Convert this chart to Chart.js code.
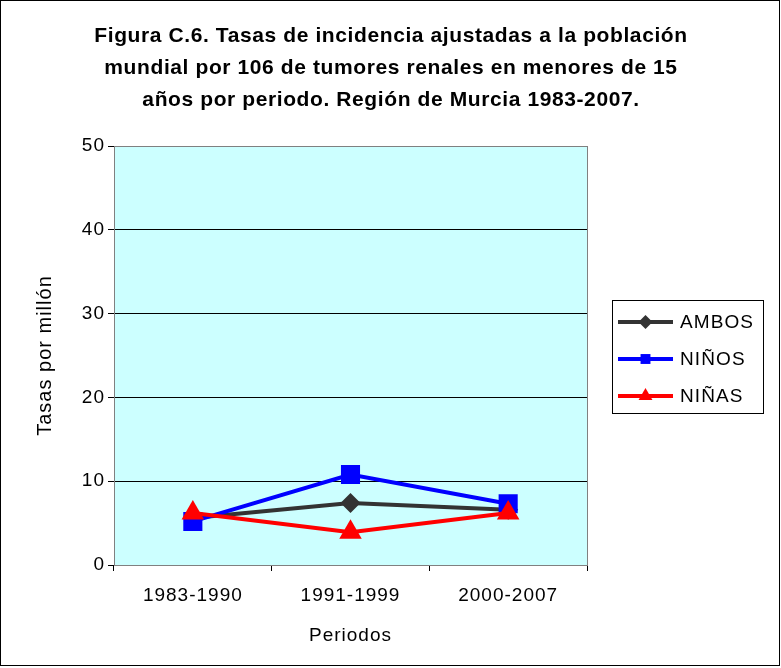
<!DOCTYPE html>
<html><head><meta charset="utf-8">
<script src="https://cdn.jsdelivr.net/npm/chart.js@4"></script>
<style>html,body{margin:0;padding:0;background:#fff}#wrap{width:781px;height:668px;position:relative}</style>
</head><body><div id="wrap"><canvas id="c" width="781" height="668"></canvas></div>
<script>
const titleLines = ["Figura C.6. Tasas de incidencia ajustadas a la población","mundial por 106 de tumores renales en menores de 15","años por periodo. Región de Murcia 1983-2007."];
const categories = ["1983-1990","1991-1999","2000-2007"];
const ambos = [5.6, 7.4, 6.6];
const ninos = [5.2, 10.8, 7.3];
const ninas = [6.2, 3.9, 6.2];
const yTicks = [0,10,20,30,40,50];
const seriesNames = ["AMBOS","NIÑOS","NIÑAS"];
const FONT = "'Liberation Sans', Arial, sans-serif";

const deco = {
  id:'deco',
  beforeDraw(chart){
    const {ctx, chartArea:a} = chart;
    ctx.fillStyle='#fff'; ctx.fillRect(0,0,chart.width,chart.height);
    ctx.fillStyle='#CCFFFF'; ctx.fillRect(a.left,a.top,a.right-a.left,a.bottom-a.top);
    ctx.letterSpacing='1px';
  },
  afterDraw(chart){
    const {ctx, chartArea:a} = chart;
    ctx.save();
    ctx.strokeStyle='#808080'; ctx.lineWidth=1;
    ctx.strokeRect(Math.round(a.left)+0.5, Math.round(a.top)+0.5, Math.round(a.right-a.left), Math.round(a.bottom-a.top));
    ctx.strokeStyle='#000';
    ctx.strokeRect(0.5,0.5,chart.width-2,chart.height-3);
    // title
    ctx.fillStyle='#000'; ctx.textAlign='center'; ctx.textBaseline='middle';
    ctx.font="bold 21px "+FONT;
    ctx.letterSpacing='0.6px';
    titleLines.forEach((t,i)=>ctx.fillText(t, 391, 36+i*32));
    // legend
    ctx.strokeStyle='#000'; ctx.lineWidth=1;
    ctx.strokeRect(612.5,300.5,151,113);
    const ds = chart.data.datasets;
    ds.forEach((d,i)=>{
      const y = 322 + i*37;
      ctx.strokeStyle=d.borderColor; ctx.lineWidth=4;
      ctx.beginPath(); ctx.moveTo(618,y); ctx.lineTo(673,y); ctx.stroke();
      ctx.fillStyle=d.borderColor;
      Chart.helpers.drawPoint(ctx,{pointStyle:d.pointStyle, radius:d.legendRadius, borderWidth:0}, 645.5, y);
      ctx.fillStyle='#000'; ctx.textAlign='left'; ctx.font="19px "+FONT;
      ctx.letterSpacing='1.1px';
      ctx.fillText(d.label, 680, y+1);
    });
    ctx.restore();
  }
};

new Chart(document.getElementById('c'), {
  type:'line',
  data:{
    labels: categories,
    datasets:[
      {label:seriesNames[0], data:ambos, order:2, borderColor:'#333333', backgroundColor:'#333333', borderWidth:4, pointStyle:'rectRot', pointRadius:10, legendRadius:7, pointBorderWidth:0},
      {label:seriesNames[1], data:ninos, order:1, borderColor:'#0000FF', backgroundColor:'#0000FF', borderWidth:4, pointStyle:'rect', pointRadius:13.5, legendRadius:7, pointBorderWidth:0},
      {label:seriesNames[2], data:ninas, order:0, borderColor:'#FF0000', backgroundColor:'#FF0000', borderWidth:4, pointStyle:'triangle', pointRadius:13, legendRadius:8, pointBorderWidth:0}
    ]
  },
  options:{
    responsive:false, animation:false, devicePixelRatio:1,
    layout:{padding:{left:0,right:194,top:146,bottom:0}},
    plugins:{legend:{display:false}, title:{display:false}, tooltip:{enabled:false}},
    scales:{
      x:{
        offset:true,
        grid:{offset:true, drawOnChartArea:false, color:'#000', tickLength:6, tickWidth:1},
        border:{color:'#000', width:1},
        ticks:{color:'#000', font:{family:FONT, size:19}, padding:13, maxRotation:0},
        title:{display:true, text:'Periodos', color:'#000', font:{family:FONT, size:19}, padding:{bottom:21}},
        afterFit(s){ s.height = 103; }
      },
      y:{
        min:0, max:50,
        afterBuildTicks(s){ s.ticks = yTicks.map(v=>({value:v})); },
        grid:{color:'#000', tickLength:6, lineWidth:1},
        border:{color:'#000', width:1},
        ticks:{color:'#000', font:{family:FONT, size:19}, padding:3},
        title:{display:true, text:'Tasas por millón', color:'#000', font:{family:FONT, size:20}, padding:{top:33}},
        afterFit(s){ s.width = 114; }
      }
    }
  },
  plugins:[deco]
});
</script></body></html>
